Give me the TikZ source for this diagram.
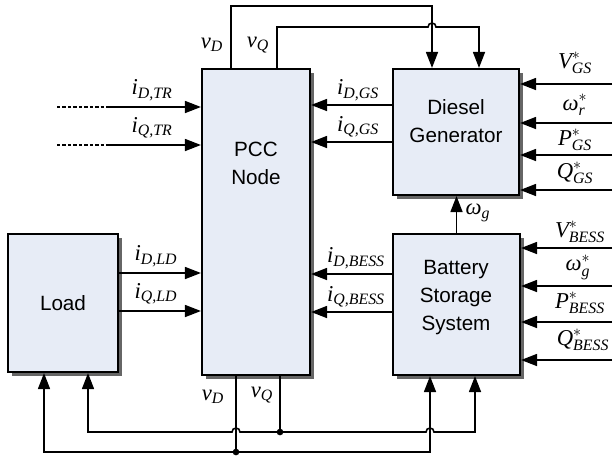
\documentclass[tikz,border=0pt]{standalone}
\usepackage{amsmath}
\usepackage{fontspec}
\setmainfont{Liberation Serif}
\setsansfont{Liberation Sans}
\usetikzlibrary{arrows.meta,shadows}
\definecolor{blkfill}{RGB}{231,236,246}
\begin{document}
\begin{tikzpicture}[x=0.75pt,y=0.75pt]
\tikzset{blk/.style={draw,line width=1.6pt,fill=blkfill,drop shadow={shadow xshift=3pt,shadow yshift=-3pt,fill=black!60,opacity=1}},
 btxt/.style={font=\sffamily\fontsize{15.5}{21}\selectfont,align=center},
 wire/.style={line width=1.2pt},
 arr/.style={wire,-{Triangle[length=12pt,width=9pt]}},
 sig/.style={font=\fontsize{17}{19}\selectfont,inner sep=0pt},
 jdot/.style={circle,fill,inner sep=0pt,minimum size=5pt}}
\useasboundingbox (0,0) rectangle (613,-457);
\node[blk,minimum width=81pt,minimum height=229.5pt] (pcc) at (256,-222) {};
\node[blk,minimum width=94.5pt,minimum height=94.5pt] (dg) at (456,-132) {};
\node[blk,minimum width=95.25pt,minimum height=105.75pt] (bess) at (456.5,-304.5) {};
\node[blk,minimum width=82.5pt,minimum height=103.5pt] (load) at (63,-303) {};
\node[btxt] (pcct) at (256,-163) {PCC\\Node};
\node[btxt] (dgt) at (456,-121) {Diesel\\Generator};
\node[btxt] (bsst) at (456,-298) {Battery\\Storage\\System};
\node[btxt] (ldt) at (63,-303) {Load};
\coordinate (trd) at (57,-107);
\coordinate (trq) at (57,-145);
\draw[wire,dash pattern=on 2.5pt off 1.6pt] (trd) -- ++(53,0) coordinate (trd1);
\draw[wire,dash pattern=on 2.5pt off 1.6pt] (trq) -- ++(53,0) coordinate (trq1);
\draw[arr] (trd1) -- (trd1 -| pcc.west);
\draw[arr] (trq1) -- (trq1 -| pcc.west);
\node[sig] (idtr) at (152,-90) {$\textit{i}_{\textit{D,TR}}$};
\node[sig] (iqtr) at (152,-128) {$\textit{i}_{\textit{Q,TR}}$};
\draw[arr] (dg.west |- 0,-105) -- (pcc.east |- 0,-105);
\draw[arr] (dg.west |- 0,-142) -- (pcc.east |- 0,-142);
\node[sig] (idgs) at (358,-90) {$\textit{i}_{\textit{D,GS}}$};
\node[sig] (iqgs) at (358,-127) {$\textit{i}_{\textit{Q,GS}}$};
\draw[arr] (bess.west |- 0,-274) -- (pcc.east |- 0,-274);
\draw[arr] (bess.west |- 0,-312) -- (pcc.east |- 0,-312);
\node[sig] (idbs) at (356,-258) {$\textit{i}_{\textit{D,BESS}}$};
\node[sig] (iqbs) at (356,-297) {$\textit{i}_{\textit{Q,BESS}}$};
\draw[arr] (load.east |- 0,-273) -- (pcc.west |- 0,-273);
\draw[arr] (load.east |- 0,-311) -- (pcc.west |- 0,-311);
\node[sig] (idld) at (156,-256) {$\textit{i}_{\textit{D,LD}}$};
\node[sig] (iqld) at (156,-294) {$\textit{i}_{\textit{Q,LD}}$};
\foreach \y [count=\i] in {84,123,155,190}{
  \coordinate (gin\i) at (612,-\y);
  \draw[arr] (gin\i) -- (dg.east |- gin\i);}
\foreach \y [count=\i] in {248,286,322,360}{
  \coordinate (bin\i) at (612,-\y);
  \draw[arr] (bin\i) -- (bess.east |- bin\i);}
\node[sig] (vgs) at (575,-63) {$\textit{V}^{*}_{\textit{GS}}$};
\node[sig] (wr) at (575,-105) {$\textit{ω}^{*}_{\textit{r}}$};
\node[sig] (pgs) at (575,-140) {$\textit{P}^{*}_{\textit{GS}}$};
\node[sig] (qgs) at (575,-173) {$\textit{Q}^{*}_{\textit{GS}}$};
\node[sig] (vbs) at (580,-232) {$\textit{V}^{*}_{\textit{BESS}}$};
\node[sig] (wgs) at (578,-267) {$\textit{ω}^{*}_{\textit{g}}$};
\node[sig] (pbs) at (580,-303) {$\textit{P}^{*}_{\textit{BESS}}$};
\node[sig] (qbs) at (583,-340) {$\textit{Q}^{*}_{\textit{BESS}}$};
\draw[arr] (bess.north) -- (bess.north |- dg.south);
\node[sig] (wg) at (478,-213) {$\textit{ω}_{\textit{g}}$};
\draw[arr] (pcc.north -| 231,0) |- (432,-6) -- (dg.north -| 432,0);
\draw[arr] (pcc.north -| 277,0) |- (428,-27) arc[start angle=180,end angle=0,radius=3pt] -- (479,-27) -- (dg.north -| 479,0);
\node[sig] (vdt) at (212,-45) {$\textit{v}_{\textit{D}}$};
\node[sig] (vqt) at (258,-45) {$\textit{v}_{\textit{Q}}$};
\coordinate (vdb) at (236,-452);
\coordinate (vqb) at (280,-432);
\draw[wire] (pcc.south -| 236,0) -- (vdb);
\draw[wire] (pcc.south -| 280,0) -- (vqb);
\draw[arr] (vdb) -| (load.south -| 44,0);
\draw[arr] (vdb) -| (bess.south -| 430,0);
\draw[arr] (vqb) -- (240,-432) arc[start angle=0,end angle=180,radius=3pt] -- (88,-432) -- (load.south -| 88,0);
\draw[arr] (vqb) -- (426,-432) arc[start angle=180,end angle=0,radius=3pt] -- (475,-432) -- (bess.south -| 475,0);
\node[jdot] (dq) at (vqb) {};
\node[jdot] (dd) at (vdb) {};
\node[sig] (vdb2) at (213,-397) {$\textit{v}_{\textit{D}}$};
\node[sig] (vqb2) at (262,-395) {$\textit{v}_{\textit{Q}}$};
\end{tikzpicture}
\end{document}
